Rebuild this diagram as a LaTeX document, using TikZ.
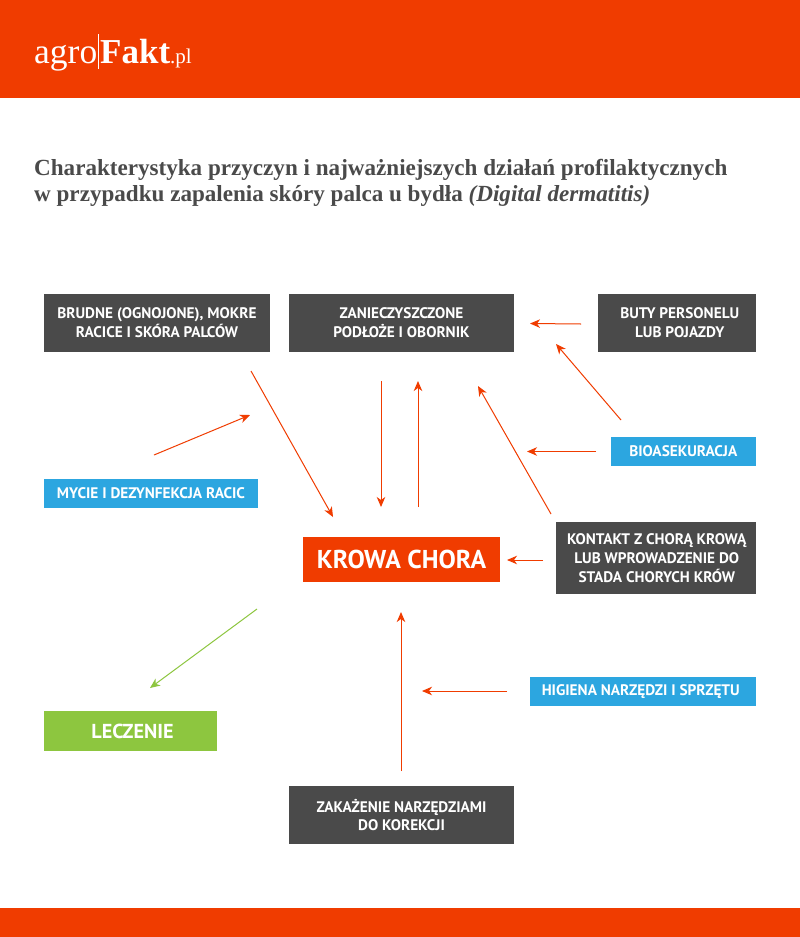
\documentclass[tikz,border=0pt]{standalone}
\usepackage{fontspec}
\setmainfont{PT Sans}
\newfontfamily\serifbold{Liberation Serif}
\usetikzlibrary{arrows.meta}
\definecolor{brandred}{HTML}{F03C00}
\definecolor{boxgray}{HTML}{4A4A4A}
\definecolor{skyblue}{HTML}{2CA6E0}
\definecolor{leafgreen}{HTML}{8DC63F}
\tikzset{
 px/.style={x=1pt,y=-1pt},
 boxbase/.style={anchor=center,inner sep=0pt,align=center,text=white,font=\bfseries\fontsize{15.3}{18.8}\selectfont},
 darkbox/.style={boxbase,fill=boxgray},
 bluebox/.style={boxbase,fill=skyblue},
 redarrow/.style={draw=brandred,line width=1pt,-{Stealth[length=10pt,width=8.5pt,inset=3pt]}},
 greenarrow/.style={draw=leafgreen,line width=1pt,-{Stealth[length=10pt,width=8.5pt,inset=3pt]}},
 band/.style={fill=brandred,draw=none},
}
\newcommand{\bx}[7]{\node[#1,minimum width=#4 pt - #2 pt,minimum height=#5 pt - #3 pt] (#6) at ({(#2+#4)/2},{(#3+#5)/2}) {#7};}
\begin{document}
\begin{tikzpicture}[px]
\useasboundingbox (0,0) rectangle (800,937);
\fill[white] (0,0) rectangle (800,937);
\path[band] (0,0) rectangle (800,97.5);
\path[band] (0,908) rectangle (800,937);
% logo
\node[anchor=base west,inner sep=0pt,text=white,font=\serifbold\fontsize{35.5}{35.5}\selectfont] (logoa) at (34,63) {agro};
\node[anchor=base west,inner sep=0pt,text=white,font=\serifbold\bfseries\fontsize{35}{35}\selectfont] (logob) at (100,63) {Fakt};
\node[anchor=base west,inner sep=0pt,text=white,font=\serifbold\fontsize{21}{21}\selectfont] (logoc) at (170,63) {.pl};
\path[draw=white,line width=0.6pt] (98.5,34) -- (98.5,69);
% title
\node[anchor=base west,inner sep=0pt,text=boxgray,font=\serifbold\bfseries\fontsize{23.1}{23.1}\selectfont] (t1) at (34,175.5) {Charakterystyka przyczyn i najważniejszych działań profilaktycznych};
\node[anchor=base west,inner sep=0pt,text=boxgray,font=\serifbold\bfseries\fontsize{23.1}{23.1}\selectfont] (t2) at (34,201) {w przypadku zapalenia skóry palca u bydła \textit{(Digital dermatitis)}};
% boxes
\bx{darkbox}{44}{294}{270}{351.5}{brudne}{BRUDNE (OGNOJONE), MOKRE\\RACICE I SKÓRA PALCÓW}
\bx{darkbox}{289}{294}{514}{351.5}{podloze}{ZANIECZYSZCZONE\\PODŁOŻE I OBORNIK}
\bx{darkbox}{598}{294}{755.5}{351.5}{buty}{\hspace*{6pt}BUTY PERSONELU\\\hspace*{6pt}LUB POJAZDY}
\bx{bluebox}{611}{437}{755.5}{466}{bio}{BIOASEKURACJA}
\bx{bluebox}{44}{479}{258}{507.5}{mycie}{MYCIE I DEZYNFEKCJA RACIC}
\node[boxbase,fill=brandred,font=\bfseries\fontsize{25.8}{25.8}\selectfont,minimum width=197pt,minimum height=45pt] (krowa) at (401.5,559.5) {KROWA CHORA};
\bx{darkbox}{556}{522}{755.5}{594}{kontakt}{\hspace*{2pt}KONTAKT Z CHORĄ KROWĄ\\\hspace*{2pt}LUB WPROWADZENIE DO\\\hspace*{2pt}STADA CHORYCH KRÓW}
\bx{bluebox}{530}{677}{755.5}{706}{higiena}{\hspace*{-4pt}HIGIENA NARZĘDZI I SPRZĘTU}
\node[boxbase,fill=leafgreen,font=\bfseries\fontsize{20.2}{20.2}\selectfont,minimum width=173pt,minimum height=40pt] (leczenie) at (130.5,731) {\hspace*{4pt}LECZENIE};
\bx{darkbox}{289}{786}{514}{844}{zakazenie}{ZAKAŻENIE NARZĘDZIAMI\\DO KOREKCJI}
% arrow ends
\coordinate (a1s) at (581,324); \coordinate (a1e) at (530,323.5);
\coordinate (a2s) at (621,420); \coordinate (a2e) at (556,344);
\coordinate (a3s) at (596,451.5); \coordinate (a3e) at (527,451.5);
\coordinate (a4s) at (251,371); \coordinate (a4e) at (333,517);
\coordinate (a5s) at (154,455); \coordinate (a5e) at (250,415);
\coordinate (a6s) at (381,381); \coordinate (a6e) at (381,507);
\coordinate (a7s) at (418,507); \coordinate (a7e) at (418,381);
\coordinate (a8s) at (551,514); \coordinate (a8e) at (478,386);
\coordinate (a9s) at (543,560); \coordinate (a9e) at (507,560);
\coordinate (a10s) at (257,609); \coordinate (a10e) at (150,688);
\coordinate (a11s) at (401,771); \coordinate (a11e) at (401,612);
\coordinate (a12s) at (507,691); \coordinate (a12e) at (422,691);
\foreach \n in {1,...,9,11,12} {\path[redarrow] (a\n s) -- (a\n e);}
\path[greenarrow] (a10s) -- (a10e);
\end{tikzpicture}
\end{document}
